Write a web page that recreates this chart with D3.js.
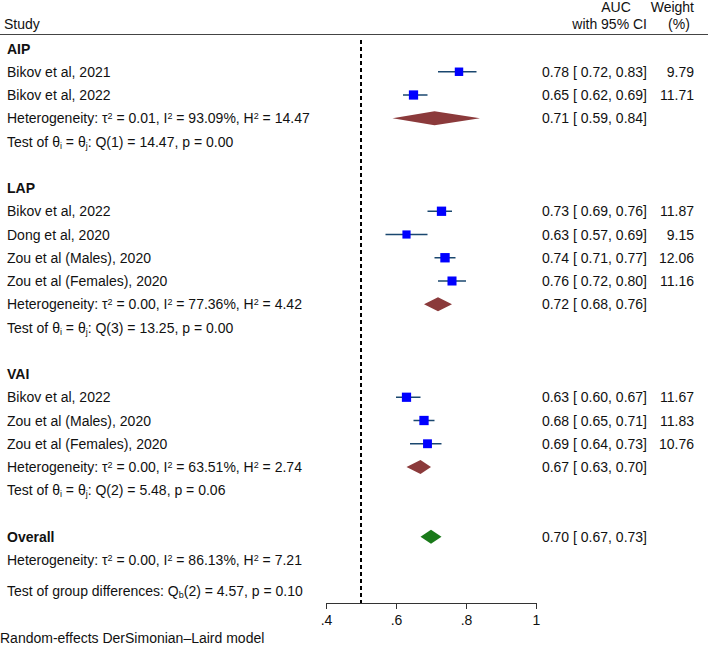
<!DOCTYPE html>
<html><head><meta charset="utf-8">
<script src="https://cdn.jsdelivr.net/npm/d3@7"></script>
<style>body{margin:0;background:#fff}text{font-family:"Liberation Sans",Arial,sans-serif;font-size:14px;fill:#111}</style>
</head><body><svg id="c" width="708" height="647"></svg>
<script>
// ---- data ----
const groups = ["AIP", "LAP", "VAI"];
const studyNames = [
  ["Bikov et al, 2021", "Bikov et al, 2022"],
  ["Bikov et al, 2022", "Dong et al, 2020", "Zou et al (Males), 2020", "Zou et al (Females), 2020"],
  ["Bikov et al, 2022", "Zou et al (Males), 2020", "Zou et al (Females), 2020"]
];
const auc   = [[0.78, 0.65], [0.73, 0.63, 0.74, 0.76], [0.63, 0.68, 0.69]];
const lower = [[0.72, 0.62], [0.69, 0.57, 0.71, 0.72], [0.60, 0.65, 0.64]];
const upper = [[0.83, 0.69], [0.76, 0.69, 0.77, 0.80], [0.67, 0.71, 0.73]];
const weights = [[9.79, 11.71], [11.87, 9.15, 12.06, 11.16], [11.67, 11.83, 10.76]];
const pooled = [0.71, 0.72, 0.67];
const pooledLo = [0.59, 0.68, 0.63];
const pooledHi = [0.84, 0.76, 0.70];
const hetTau2 = ["0.01", "0.00", "0.00"];
const hetI2 = ["93.09%", "77.36%", "63.51%"];
const hetH2 = ["14.47", "4.42", "2.74"];
const testQdf = [1, 3, 2];
const testQ = ["14.47", "13.25", "5.48"];
const testP = ["0.00", "0.00", "0.06"];
const overall = {est: 0.70, lo: 0.67, hi: 0.73, tau2: "0.00", i2: "86.13%", h2: "7.21"};
const groupDiff = {df: 2, Q: "4.57", p: "0.10"};
const xTicks = [0.4, 0.6, 0.8, 1.0];
const xTickLabels = [".4", ".6", ".8", "1"];
const nullValue = 0.5;

// ---- layout ----
const svg = d3.select("#c");
const x = d3.scaleLinear().domain([0.4, 1.0]).range([326, 536]);
const rowY = i => 48.5 + 23.25 * i;
const fmt = d3.format(".2f");
const ciText = (e, l, h) => `${fmt(e)} [ ${fmt(l)},  ${fmt(h)}]`;
const colCI = 647, colW = 694, colStudy = 7;

// header
svg.append("text").attr("x", 4).attr("y", 29).text("Study");
svg.append("text").attr("x", 616).attr("y", 12).attr("text-anchor", "middle").text("AUC");
svg.append("text").attr("x", 647).attr("y", 29).attr("text-anchor", "end").text("with 95% CI");
svg.append("text").attr("x", 694).attr("y", 12).attr("text-anchor", "end").text("Weight");
svg.append("text").attr("x", 679).attr("y", 29).attr("text-anchor", "middle").text("(%)");
svg.append("line").attr("x1", 0).attr("x2", 708).attr("y1", 34.5).attr("y2", 34.5)
  .attr("stroke", "#444").attr("stroke-width", 1.2);

function label(y, txt, bold) {
  return svg.append("text").attr("x", colStudy).attr("y", y).attr("dy", "0.36em")
    .style("font-weight", bold ? "bold" : null).text(txt);
}
function sup(t, s) { t.append("tspan").attr("baseline-shift", "45%").style("font-size", "9px").text(s); }
function sub(t, s) { t.append("tspan").attr("baseline-shift", "-20%").style("font-size", "9px").text(s); }
function hetLabel(y, t2, i2, h2) {
  const t = svg.append("text").attr("x", colStudy).attr("y", y).attr("dy", "0.36em");
  t.append("tspan").text("Heterogeneity: τ"); sup(t, "2");
  t.append("tspan").text(` = ${t2}, I`); sup(t, "2");
  t.append("tspan").text(` = ${i2}, H`); sup(t, "2");
  t.append("tspan").text(` = ${h2}`);
}
function testLabel(y, df, q, p) {
  const t = svg.append("text").attr("x", colStudy).attr("y", y).attr("dy", "0.36em");
  t.append("tspan").text("Test of θ"); sub(t, "i");
  t.append("tspan").text(" = θ"); sub(t, "j");
  t.append("tspan").text(`: Q(${df}) = ${q}, p = ${p}`);
}
function diamond(y, e, l, h, color) {
  const hh = 7;
  svg.append("path")
    .attr("d", `M${x(l)},${y}L${x(e)},${y - hh}L${x(h)},${y}L${x(e)},${y + hh}Z`)
    .attr("fill", color);
}
function rightText(xp, y, txt) {
  svg.append("text").attr("x", xp).attr("y", y).attr("dy", "0.36em").attr("text-anchor", "end").text(txt);
}

let row = 0;
groups.forEach((g, gi) => {
  label(rowY(row), g, true); row++;
  studyNames[gi].forEach((s, si) => {
    const y = rowY(row);
    label(y, s, false);
    svg.append("line").attr("x1", x(lower[gi][si])).attr("x2", x(upper[gi][si]))
      .attr("y1", y).attr("y2", y).attr("stroke", "#1a476f").attr("stroke-width", 1.5);
    const side = 2.7 * Math.sqrt(weights[gi][si]);
    svg.append("rect").attr("x", x(auc[gi][si]) - side / 2).attr("y", y - side / 2)
      .attr("width", side).attr("height", side).attr("fill", "#0000ff");
    rightText(colCI, y, ciText(auc[gi][si], lower[gi][si], upper[gi][si]));
    rightText(colW, y, fmt(weights[gi][si]));
    row++;
  });
  const yh = rowY(row);
  hetLabel(yh, hetTau2[gi], hetI2[gi], hetH2[gi]);
  diamond(yh, pooled[gi], pooledLo[gi], pooledHi[gi], "#8b3a3b");
  rightText(colCI, yh, ciText(pooled[gi], pooledLo[gi], pooledHi[gi]));
  row++;
  testLabel(rowY(row), testQdf[gi], testQ[gi], testP[gi]);
  row += 2;
});
// overall
label(rowY(row), "Overall", true);
diamond(rowY(row), overall.est, overall.lo, overall.hi, "#1a7a1a");
rightText(colCI, rowY(row), ciText(overall.est, overall.lo, overall.hi));
row++;
hetLabel(rowY(row), overall.tau2, overall.i2, overall.h2);
row++;
{
  const y = rowY(row + 0.35);
  const t = svg.append("text").attr("x", colStudy).attr("y", y).attr("dy", "0.36em");
  t.append("tspan").text("Test of group differences: Q"); sub(t, "b");
  t.append("tspan").text(`(${groupDiff.df}) = ${groupDiff.Q}, p = ${groupDiff.p}`);
}

// axis
const axisY = 603;
const axis = d3.axisBottom(x).tickValues(xTicks).tickSize(6)
  .tickFormat((d, i) => xTickLabels[i]);
const ag = svg.append("g").attr("transform", `translate(0,${axisY})`).call(axis);
ag.select(".domain").attr("stroke", "#333").attr("d", `M${x(0.4)},0.5H${x(1.0)}`);
ag.selectAll(".tick line").attr("stroke", "#333");
ag.selectAll(".tick text").attr("dy", "0.9em").style("font-size", "14px")
  .style("font-family", '"Liberation Sans",Arial,sans-serif').attr("fill", "#111");

// null line
svg.append("line").attr("x1", x(nullValue)).attr("x2", x(nullValue))
  .attr("y1", 40).attr("y2", axisY).attr("stroke", "#000").attr("stroke-width", 2)
  .attr("stroke-dasharray", "4,3");

svg.append("text").attr("x", 0).attr("y", 643).text("Random-effects DerSimonian–Laird model");
</script></body></html>
